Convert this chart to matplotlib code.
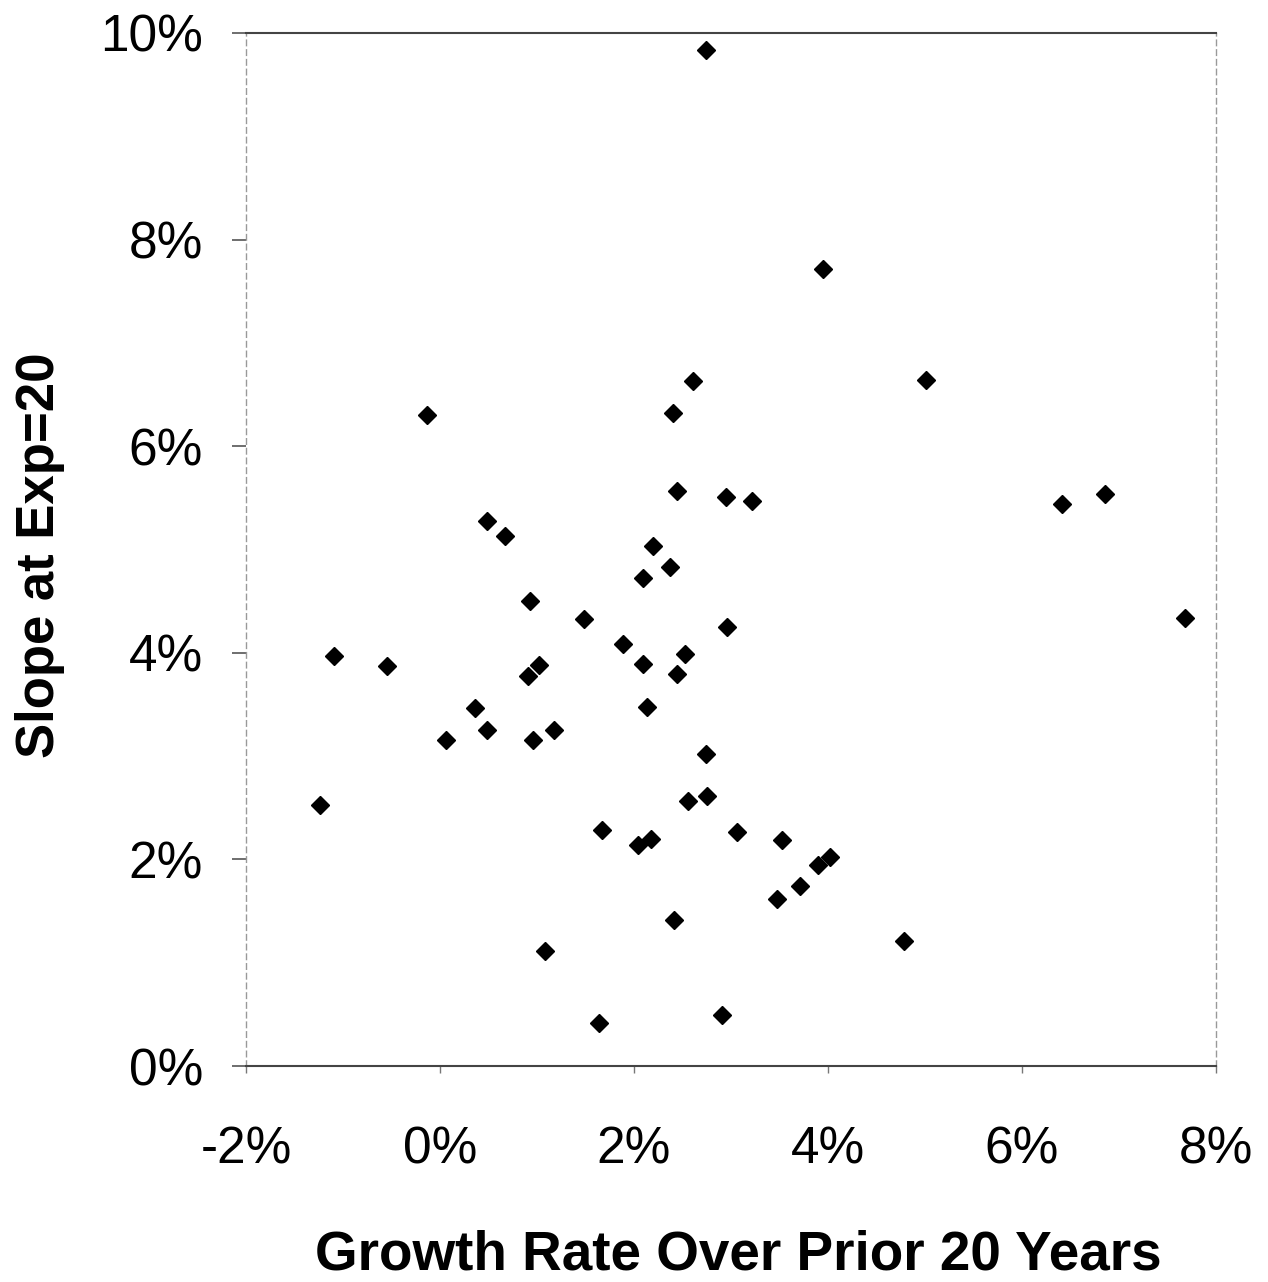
import matplotlib
matplotlib.use("Agg")
import matplotlib.pyplot as plt
from matplotlib.ticker import FuncFormatter

plt.rcParams['font.family'] = ['Liberation Sans', 'DejaVu Sans']

growth = [2.74, 3.95, 5.01, 2.61, -0.13, 2.40, 2.44, 2.95, 3.22, 6.41, 6.86, 0.48, 0.67,
          2.20, 2.37, 2.09, 0.93, 1.48, 7.68, 2.96, 1.89, -1.09, 2.53, -0.55, 2.09, 1.02,
          0.91, 2.44, 0.36, 2.13, 0.48, 1.18, 0.06, 0.96, 2.74, 2.75, 2.56, -1.24, 1.67,
          3.06, 3.53, 2.18, 2.04, 4.02, 3.90, 3.71, 3.47, 2.41, 4.78, 1.08, 2.91, 1.64]
slope = [9.84, 7.72, 6.64, 6.63, 6.30, 6.32, 5.57, 5.51, 5.47, 5.44, 5.54, 5.28, 5.13,
         5.03, 4.83, 4.72, 4.50, 4.33, 4.34, 4.25, 4.09, 3.97, 3.99, 3.87, 3.89, 3.88,
         3.78, 3.79, 3.47, 3.48, 3.25, 3.25, 3.16, 3.16, 3.02, 2.61, 2.57, 2.53, 2.28,
         2.27, 2.19, 2.20, 2.14, 2.02, 1.95, 1.74, 1.62, 1.41, 1.21, 1.11, 0.49, 0.42]
xticks = [-2, 0, 2, 4, 6, 8]
yticks = [0, 2, 4, 6, 8, 10]

fig = plt.figure(figsize=(12.68, 12.82), dpi=100)
ax = fig.add_axes([246/1268, 1 - 1066/1282, (1216-246)/1268, (1066-33)/1282])
ax.plot(growth, slope, linestyle='none', marker='D', markersize=9.5, color='black')

ax.set_xlim(-2, 8)
ax.set_ylim(0, 10)
ax.set_xticks(xticks)
ax.set_yticks(yticks)
pct = FuncFormatter(lambda v, p: f"{v:.0f}%")
ax.xaxis.set_major_formatter(pct)
ax.yaxis.set_major_formatter(pct)
ax.tick_params(axis='x', labelsize=37, pad=38, length=5, width=1, color='#777777', direction='out')
ax.tick_params(axis='y', labelsize=37, pad=21, length=10, width=1.2, color='#555555', direction='out')

for s in ['top', 'bottom']:
    ax.spines[s].set_color('#444444')
    ax.spines[s].set_linewidth(1.5)
for s in ['left', 'right']:
    ax.spines[s].set_color('#999999')
    ax.spines[s].set_linewidth(1.0)
    ax.spines[s].set_linestyle((0, (4, 3)))

fig.text(738/1268, 1 - 1270/1282, "Growth Rate Over Prior 20 Years",
         fontsize=39.5, fontweight='bold', ha='center', va='baseline')
fig.text(40/1268, 1 - 555/1282, "Slope at Exp=20",
         fontsize=38, fontweight='bold', ha='center', va='center', rotation=90)

fig.savefig("out.png", dpi=100)
